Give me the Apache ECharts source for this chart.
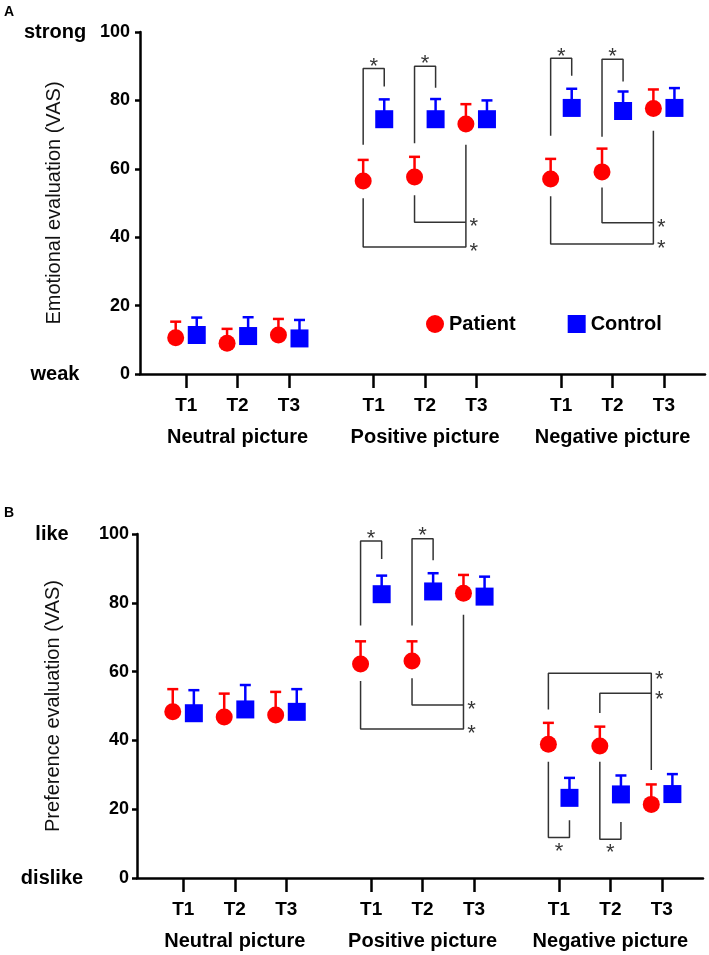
<!DOCTYPE html>
<html>
<head>
<meta charset="utf-8">
<title>Emotional / preference evaluation</title>
<script src="https://cdn.jsdelivr.net/npm/echarts@6/dist/echarts.min.js"></script>
<style>
  html, body { margin: 0; padding: 0; background: #fff; }
  #main { width: 709px; height: 955px; }
</style>
</head>
<body>
<div id="main"></div>
<script>
// categories
var timeLabels = ['T1', 'T2', 'T3'];
var groupLabels = ['Neutral picture', 'Positive picture', 'Negative picture'];
var seriesNames = ['Patient', 'Control'];

// A: emotional evaluation (VAS), mean and mean+SD, order N T1..T3, P T1..T3, Neg T1..T3
var emoPatientMean  = [10.6, 9.0, 11.4, 56.4, 57.6, 73.1, 57.0, 59.1, 77.6];
var emoPatientUpper = [15.3, 13.2, 16.1, 62.6, 63.5, 78.9, 62.9, 65.9, 83.2];
var emoControlMean  = [11.4, 11.1, 10.4, 74.5, 74.5, 74.5, 77.8, 76.9, 77.8];
var emoControlUpper = [16.5, 16.6, 15.8, 80.3, 80.4, 80.0, 83.4, 82.6, 83.6];

// B: preference evaluation (VAS)
var prefPatientMean  = [48.3, 46.8, 47.4, 62.2, 63.1, 82.8, 38.9, 38.4, 21.4];
var prefPatientUpper = [54.9, 53.6, 54.1, 68.8, 68.8, 88.1, 45.1, 44.0, 27.2];
var prefControlMean  = [47.9, 49.0, 48.3, 82.5, 83.3, 81.8, 23.3, 24.3, 24.4];
var prefControlUpper = [54.6, 56.1, 54.9, 87.9, 88.6, 87.6, 29.1, 29.8, 30.2];

// significance brackets: points as [slot, side(-1 patient / 1 control), y]
var emoBrackets = [
  [[3, -1, 67.0], [3, -1, 89.3], [3, 1, 89.3], [3, 1, 84.1]],
  [[4, -1, 67.5], [4, -1, 90.0], [4, 1, 90.0], [4, 1, 83.7]],
  [[4, -1, 52.3], [4, -1, 44.4], [5, -1, 44.4]],
  [[3, -1, 51.4], [3, -1, 37.1], [5, -1, 37.1], [5, -1, 67.0]],
  [[6, -1, 69.7], [6, -1, 92.3], [6, 1, 92.3], [6, 1, 87.2]],
  [[7, -1, 69.4], [7, -1, 92.0], [7, 1, 92.0], [7, 1, 85.5]],
  [[7, -1, 54.5], [7, -1, 44.2], [8, -1, 44.2]],
  [[6, -1, 52.0], [6, -1, 38.0], [8, -1, 38.0], [8, -1, 71.1]]
];
var prefBrackets = [
  [[3, -1, 73.4], [3, -1, 98.0], [3, 1, 98.0], [3, 1, 92.7]],
  [[4, -1, 73.4], [4, -1, 98.6], [4, 1, 98.6], [4, 1, 92.4]],
  [[4, -1, 58.1], [4, -1, 50.3], [5, -1, 50.3]],
  [[3, -1, 57.3], [3, -1, 43.3], [5, -1, 43.3], [5, -1, 76.5]],
  [[6, -1, 49.0], [6, -1, 59.5], [8, -1, 59.5], [8, -1, 31.4]],
  [[7, -1, 48.0], [7, -1, 53.7], [8, -1, 53.7]],
  [[6, -1, 33.8], [6, -1, 11.8], [6, 1, 11.8], [6, 1, 16.8]],
  [[7, -1, 33.8], [7, -1, 11.3], [7, 1, 11.3], [7, 1, 16.3]]
];
// asterisks: [slot, dx, y]
var emoStars = [[3, 0, 91.3], [4, 0, 92.0], [5, -0.05, 44.4], [5, -0.05, 37.1],
                [6, 0, 94.2], [7, 0, 94.2], [8, -0.05, 44.2], [8, -0.05, 38.0]];
var prefStars = [[3, 0, 100.1], [4, 0, 100.8], [5, -0.05, 50.3], [5, -0.05, 43.3],
                 [8, -0.05, 59.0], [8, -0.05, 53.2], [6, 0, 9.0], [7, 0, 8.7]];

// layout along the x value axis
var GROUP_STEP = 3.65, FIRST = 0.9, SIDE = 0.205;
var slotX = [];
for (var g = 0; g < 3; g++) for (var t = 0; t < 3; t++) slotX.push(FIRST + g * GROUP_STEP + t);
var groupX = [0, 1, 2].map(function (g) { return FIRST + g * GROUP_STEP + 1; });

var FONT = 'Liberation Sans, Arial, sans-serif';
var RED = '#ff0000', BLUE = '#0000ff', INK = '#000';

function nearest(arr, v) {
  var best = 0;
  for (var i = 1; i < arr.length; i++) if (Math.abs(arr[i] - v) < Math.abs(arr[best] - v)) best = i;
  return best;
}

function xAxes(grid) {
  return [{
    gridIndex: grid, type: 'value', min: 0, max: 11, position: 'bottom',
    axisLine: { show: true, onZero: false, lineStyle: { color: INK, width: 2.5 } },
    axisTick: { show: true, customValues: slotX, length: 14, lineStyle: { color: INK, width: 2.5 } },
    axisLabel: {
      customValues: slotX, margin: 22, color: INK, fontFamily: FONT, fontWeight: 'bold', fontSize: 19,
      formatter: function (v) { return timeLabels[nearest(slotX, v) % 3]; }
    },
    splitLine: { show: false }
  }, {
    gridIndex: grid, type: 'value', min: 0, max: 11, position: 'bottom',
    axisLine: { show: false, onZero: false }, axisTick: { show: false },
    axisLabel: {
      customValues: groupX, margin: 53, color: INK, fontFamily: FONT, fontWeight: 'bold', fontSize: 20,
      formatter: function (v) { return groupLabels[nearest(groupX, v)]; }
    },
    splitLine: { show: false }
  }];
}

function yAxes(grid, name, ends, labelMargin, nameGap) {
  return [{
    gridIndex: grid, type: 'value', min: 0, max: 100, interval: 20, position: 'left',
    name: name, nameLocation: 'middle', nameGap: nameGap,
    nameTextStyle: { fontFamily: FONT, fontSize: 20, color: '#111' },
    axisLine: { show: true, lineStyle: { color: INK, width: 2.5 } },
    axisTick: { show: true, length: 5, lineStyle: { color: INK, width: 2.5 } },
    axisLabel: { margin: labelMargin, color: INK, fontFamily: FONT, fontWeight: 'bold', fontSize: 18 },
    splitLine: { show: false }
  }, {
    gridIndex: grid, type: 'value', min: 0, max: 100, position: 'left',
    axisLine: { show: false }, axisTick: { show: false }, splitLine: { show: false },
    axisLabel: {
      customValues: [0, 100], margin: 85, align: 'center', color: INK,
      fontFamily: FONT, fontWeight: 'bold', fontSize: 20,
      formatter: function (v) { return v > 50 ? ends[1] : ends[0]; }
    }
  }];
}

function errorSeries(axisIdx, mean, upper, side, color) {
  return {
    type: 'custom', xAxisIndex: axisIdx.x, yAxisIndex: axisIdx.y, z: 2, silent: true,
    data: mean.map(function (m, i) { return [slotX[i] + side * SIDE, m, upper[i]]; }),
    encode: { x: 0, y: [1, 2] },
    renderItem: function (params, api) {
      var p0 = api.coord([api.value(0), api.value(1)]);
      var p1 = api.coord([api.value(0), api.value(2)]);
      var st = { stroke: color, lineWidth: 2.5 };
      return { type: 'group', children: [
        { type: 'line', shape: { x1: p0[0], y1: p0[1], x2: p1[0], y2: p1[1] }, style: st },
        { type: 'line', shape: { x1: p1[0] - 5.5, y1: p1[1], x2: p1[0] + 5.5, y2: p1[1] }, style: st }
      ] };
    }
  };
}

function markerSeries(axisIdx, name, mean, side, color, symbol, size) {
  return {
    type: 'scatter', name: name, xAxisIndex: axisIdx.x, yAxisIndex: axisIdx.y, z: 5,
    symbol: symbol, symbolSize: size, itemStyle: { color: color, opacity: 1 },
    data: mean.map(function (m, i) { return [slotX[i] + side * SIDE, m]; })
  };
}

function bracketSeries(axisIdx, brackets) {
  return brackets.map(function (b) {
    return {
      type: 'line', xAxisIndex: axisIdx.x, yAxisIndex: axisIdx.y, z: 3, silent: true,
      symbol: 'none', lineStyle: { color: '#333', width: 1.5 },
      data: b.map(function (p) { return [slotX[p[0]] + p[1] * SIDE, p[2]]; })
    };
  });
}

function starSeries(axisIdx, stars) {
  return {
    type: 'scatter', xAxisIndex: axisIdx.x, yAxisIndex: axisIdx.y, z: 4, silent: true, clip: false,
    symbolSize: 1, itemStyle: { color: 'rgba(0,0,0,0)' },
    label: { show: true, position: 'inside', formatter: '*', offset: [0, 5],
             fontFamily: FONT, fontSize: 22, color: INK },
    data: stars.map(function (s) { return [slotX[s[0]] + s[1], s[2]]; })
  };
}

function panelSeries(axisIdx, pm, pu, cm, cu, brackets, stars) {
  return [].concat(
    bracketSeries(axisIdx, brackets),
    [starSeries(axisIdx, stars),
     errorSeries(axisIdx, pm, pu, -1, RED),
     errorSeries(axisIdx, cm, cu, 1, BLUE),
     markerSeries(axisIdx, seriesNames[0], pm, -1, RED, 'circle', 17),
     markerSeries(axisIdx, seriesNames[1], cm, 1, BLUE, 'rect', 18)]
  );
}

var chart = echarts.init(document.getElementById('main'), null, { renderer: 'canvas' });
chart.setOption({
  animation: false,
  backgroundColor: '#fff',
  grid: [
    { left: 140, top: 32, width: 565, height: 342 },
    { left: 137, top: 534, width: 566, height: 344 }
  ],
  xAxis: xAxes(0).concat(xAxes(1)),
  yAxis: yAxes(0, 'Emotional evaluation (VAS)', ['weak', 'strong'], 10, 76)
    .concat(yAxes(1, 'Preference evaluation (VAS)', ['dislike', 'like'], 8, 74)),
  legend: {
    left: 421, top: 309, itemWidth: 18, itemHeight: 18, itemGap: 52, selectedMode: false,
    textStyle: { fontFamily: FONT, fontWeight: 'bold', fontSize: 20, color: INK },
    data: [{ name: 'Patient', icon: 'circle' }, { name: 'Control', icon: 'rect' }]
  },
  graphic: [
    { type: 'text', left: 4, top: 5, style: { text: 'A', font: 'bold 14px ' + FONT, fill: INK } },
    { type: 'text', left: 4, top: 506, style: { text: 'B', font: 'bold 14px ' + FONT, fill: INK } }
  ],
  series: panelSeries({ x: 0, y: 0 }, emoPatientMean, emoPatientUpper, emoControlMean, emoControlUpper, emoBrackets, emoStars)
    .concat(panelSeries({ x: 2, y: 2 }, prefPatientMean, prefPatientUpper, prefControlMean, prefControlUpper, prefBrackets, prefStars))
});
</script>
</body>
</html>
